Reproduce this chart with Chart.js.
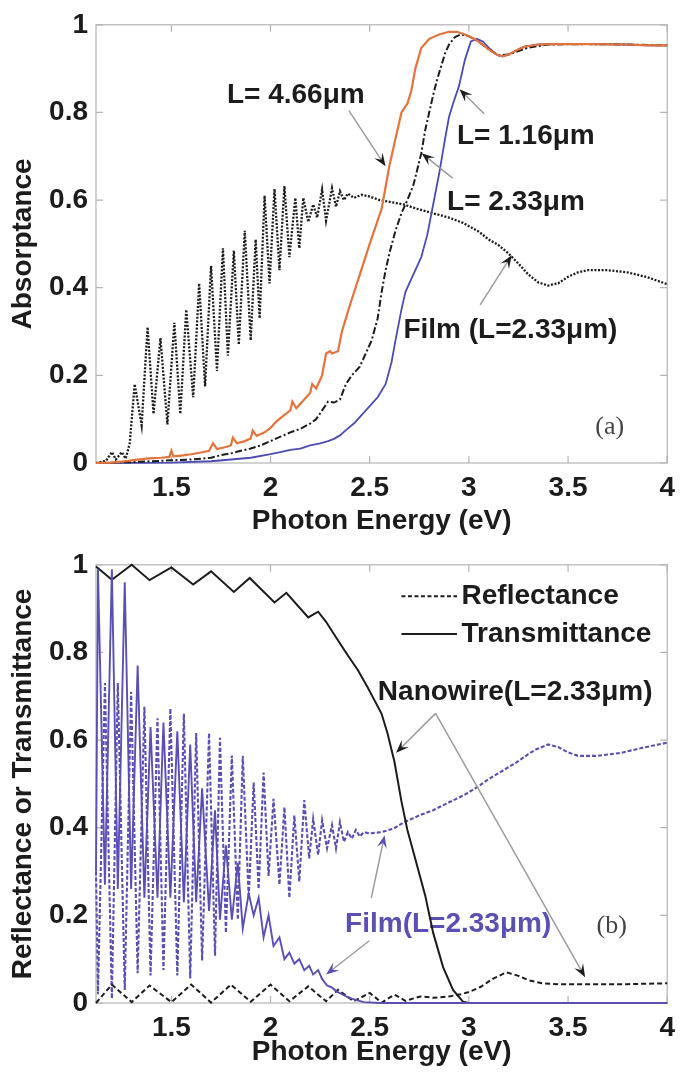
<!DOCTYPE html>
<html>
<head>
<meta charset="utf-8">
<script src="https://cdn.jsdelivr.net/npm/chart.js@4.4.1/dist/chart.umd.min.js"></script>
<style>
  html, body { margin: 0; padding: 0; background: #fff; }
  #wrap { position: relative; width: 683px; height: 1074px; }
  canvas { position: absolute; left: 0; }
  #chartA { top: 0; }
  #chartB { top: 540px; }
</style>
</head>
<body>
<div id="wrap">
  <canvas id="chartA" width="683" height="540"></canvas>
  <canvas id="chartB" width="683" height="534"></canvas>
</div>
<script>
// axis ticks (both panels)
const xTicks = [1.5, 2, 2.5, 3, 3.5, 4];
const xTickLabels = ["1.5", "2", "2.5", "3", "3.5", "4"];
const yTicks = [0, 0.2, 0.4, 0.6, 0.8, 1];
const yTickLabels = ["0", "0.2", "0.4", "0.6", "0.8", "1"];

// (a) absorptance, nanowire L=4.66um
const nw466E = [1.12,1.2,1.25,1.3,1.35,1.4,1.45,1.49,1.5,1.51,1.55,1.6,1.65,1.69,1.71,1.73,1.77,1.8,1.81,1.83,1.87,1.9,1.91,1.93,1.97,2.0,2.03,2.07,2.1,2.11,2.13,2.16,2.18,2.2,2.21,2.23,2.26,2.28,2.3,2.31,2.34,2.36,2.38,2.4,2.45,2.5,2.53,2.56,2.58,2.6,2.62,2.64,2.66,2.69,2.71,2.73,2.76,2.8,2.85,2.9,2.94,2.98,3.02,3.06,3.1,3.14,3.17,3.2,3.24,3.28,3.35,3.45,3.6,3.8,3.9,4.0];
const nw466A = [0,0.001,0.003,0.006,0.009,0.011,0.012,0.014,0.028,0.015,0.017,0.02,0.024,0.028,0.045,0.032,0.036,0.04,0.058,0.045,0.05,0.056,0.074,0.062,0.07,0.08,0.095,0.11,0.12,0.14,0.125,0.14,0.15,0.16,0.18,0.17,0.2,0.25,0.255,0.25,0.255,0.3,0.33,0.36,0.43,0.5,0.54,0.58,0.63,0.68,0.72,0.76,0.8,0.82,0.85,0.9,0.947,0.968,0.978,0.984,0.984,0.978,0.97,0.958,0.944,0.932,0.928,0.932,0.942,0.95,0.955,0.956,0.956,0.955,0.953,0.953];

// (a) nanowire L=2.33um
const nw233E = [1.12,1.3,1.4,1.5,1.6,1.7,1.75,1.8,1.85,1.9,1.95,2.0,2.05,2.1,2.15,2.2,2.23,2.26,2.29,2.32,2.35,2.38,2.41,2.45,2.48,2.51,2.54,2.56,2.58,2.6,2.63,2.66,2.69,2.72,2.74,2.76,2.78,2.8,2.82,2.84,2.86,2.88,2.9,2.93,2.96,3.0,3.05,3.1,3.15,3.2,3.25,3.3,3.4,3.6,3.8,4.0];
const nw233A = [0,0.002,0.004,0.006,0.008,0.012,0.018,0.022,0.028,0.033,0.04,0.05,0.06,0.07,0.078,0.09,0.1,0.12,0.14,0.138,0.145,0.18,0.2,0.22,0.25,0.28,0.33,0.39,0.44,0.48,0.53,0.57,0.6,0.634,0.67,0.707,0.76,0.8,0.84,0.875,0.905,0.935,0.955,0.972,0.978,0.974,0.961,0.944,0.93,0.932,0.94,0.948,0.955,0.956,0.955,0.953];

// (a) nanowire L=1.16um
const nw116E = [1.12,1.5,1.7,1.8,1.9,2.0,2.05,2.1,2.15,2.2,2.25,2.29,2.32,2.35,2.38,2.42,2.46,2.5,2.54,2.58,2.61,2.63,2.66,2.68,2.71,2.74,2.76,2.79,2.82,2.85,2.88,2.9,2.92,2.95,2.98,3.01,3.04,3.07,3.1,3.14,3.17,3.2,3.24,3.28,3.35,3.45,3.6,3.8,3.9,4.0];
const nw116A = [0,0.001,0.004,0.008,0.012,0.02,0.025,0.03,0.033,0.04,0.045,0.05,0.055,0.063,0.075,0.09,0.11,0.13,0.15,0.18,0.23,0.28,0.35,0.39,0.42,0.45,0.47,0.52,0.59,0.66,0.74,0.79,0.82,0.86,0.92,0.962,0.968,0.962,0.948,0.932,0.928,0.932,0.942,0.95,0.955,0.956,0.956,0.955,0.953,0.953];

// (a) film L=2.33um
const filmAE = [1.12,1.17,1.2,1.22,1.25,1.27,1.29,1.315,1.35,1.38,1.41,1.445,1.48,1.515,1.545,1.575,1.61,1.64,1.67,1.70,1.73,1.76,1.785,1.815,1.84,1.87,1.9,1.925,1.945,1.97,1.995,2.02,2.045,2.07,2.095,2.125,2.145,2.165,2.19,2.215,2.235,2.26,2.28,2.31,2.33,2.35,2.37,2.39,2.42,2.46,2.5,2.55,2.6,2.67,2.74,2.81,2.9,2.97,3.05,3.1,3.15,3.2,3.25,3.3,3.35,3.4,3.45,3.5,3.55,3.6,3.7,3.8,3.9,4.0];
const filmA = [0,0.005,0.025,0.008,0.025,0.01,0.045,0.18,0.086,0.31,0.112,0.285,0.088,0.32,0.112,0.35,0.15,0.41,0.175,0.45,0.21,0.49,0.245,0.485,0.27,0.53,0.28,0.51,0.33,0.61,0.41,0.625,0.44,0.632,0.47,0.605,0.49,0.605,0.55,0.59,0.56,0.624,0.553,0.627,0.585,0.62,0.6,0.615,0.605,0.612,0.608,0.6,0.596,0.59,0.58,0.571,0.56,0.548,0.528,0.51,0.497,0.478,0.455,0.43,0.412,0.405,0.41,0.425,0.435,0.44,0.44,0.435,0.424,0.408];

// (b) nanowire L=2.33um, transmittance and reflectance
const nwTE = [1.12,1.2,1.3,1.39,1.5,1.61,1.7,1.815,1.895,2.02,2.08,2.19,2.24,2.28,2.325,2.39,2.44,2.49,2.525,2.56,2.59,2.625,2.66,2.69,2.72,2.78,2.82,2.87,2.92,2.97,3.0,3.5,4.0];
const nwT = [0.996,0.966,1.0,0.965,0.994,0.955,0.985,0.938,0.97,0.914,0.936,0.88,0.893,0.87,0.838,0.793,0.76,0.72,0.69,0.66,0.615,0.55,0.46,0.395,0.345,0.245,0.16,0.082,0.03,0.003,0,0,0];
const nwRE = [1.12,1.2,1.3,1.39,1.5,1.6,1.7,1.8,1.9,2.0,2.095,2.19,2.28,2.34,2.42,2.5,2.56,2.625,2.68,2.755,2.82,2.9,2.96,3.0,3.06,3.12,3.19,3.25,3.3,3.37,3.45,3.6,3.8,4.0];
const nwR = [0,0.042,0.002,0.04,0.002,0.042,0.001,0.042,0.003,0.042,0.004,0.038,0.004,0.03,0.004,0.023,0.001,0.019,0.005,0.015,0.012,0.015,0.02,0.025,0.037,0.055,0.07,0.062,0.052,0.045,0.043,0.043,0.043,0.045];

// (b) film L=2.33um, reflectance and transmittance
const filmRE = [1.12,1.13,1.165,1.2,1.23,1.265,1.297,1.33,1.364,1.395,1.43,1.46,1.495,1.53,1.563,1.595,1.625,1.655,1.69,1.72,1.745,1.775,1.805,1.835,1.86,1.89,1.915,1.94,1.965,1.99,2.015,2.045,2.07,2.095,2.12,2.145,2.17,2.195,2.215,2.24,2.26,2.285,2.31,2.33,2.35,2.37,2.39,2.41,2.43,2.45,2.47,2.5,2.56,2.62,2.675,2.75,2.82,2.9,2.97,3.04,3.1,3.17,3.24,3.3,3.34,3.4,3.45,3.5,3.55,3.65,3.77,3.87,4.0];
const filmR = [0.3,0.02,0.73,0.01,0.73,0.03,0.71,0.068,0.676,0.063,0.65,0.075,0.672,0.063,0.66,0.056,0.616,0.097,0.616,0.108,0.605,0.16,0.565,0.19,0.564,0.24,0.503,0.26,0.526,0.29,0.466,0.27,0.447,0.24,0.428,0.277,0.463,0.33,0.42,0.338,0.417,0.353,0.406,0.353,0.413,0.368,0.39,0.375,0.395,0.38,0.39,0.387,0.39,0.398,0.413,0.428,0.44,0.458,0.473,0.492,0.511,0.53,0.549,0.568,0.579,0.59,0.584,0.572,0.564,0.564,0.571,0.582,0.594];
const filmTE = [1.12,1.13,1.165,1.2,1.23,1.265,1.297,1.33,1.364,1.395,1.43,1.46,1.495,1.53,1.563,1.595,1.625,1.655,1.69,1.72,1.745,1.775,1.805,1.835,1.86,1.89,1.915,1.94,1.965,1.99,2.015,2.045,2.07,2.095,2.12,2.145,2.17,2.195,2.215,2.24,2.26,2.285,2.31,2.335,2.36,2.39,2.43,2.47,2.55,3.0,3.5,4.0];
const filmT = [0.3,0.99,0.27,0.99,0.26,0.96,0.26,0.77,0.24,0.63,0.24,0.64,0.24,0.62,0.23,0.59,0.23,0.49,0.21,0.44,0.19,0.36,0.19,0.32,0.17,0.25,0.2,0.24,0.15,0.2,0.13,0.15,0.1,0.115,0.09,0.1,0.075,0.085,0.065,0.075,0.055,0.04,0.035,0.026,0.02,0.013,0.007,0.002,0,0,0,0];

const ORANGE = "#e4743c";
const BLUE = "#4c4cb4";
const PURPLE = "#5a4fb2";
const INK = "#1c1c1c";
const FONT = "'Liberation Sans', Arial, sans-serif";

Chart.defaults.font.family = FONT;
Chart.defaults.font.size = 28;
Chart.defaults.font.weight = "bold";
Chart.defaults.color = INK;

function pts(xs, ys) {
  return xs.map((x, i) => ({ x: x, y: ys[i] }));
}

function line(xs, ys, color, dash, width) {
  return {
    data: pts(xs, ys),
    showLine: true,
    borderColor: color,
    borderWidth: width || 2,
    borderDash: dash || [],
    pointRadius: 0,
    tension: 0,
    fill: false,
    clip: 4
  };
}

// box round the plot with inward ticks on all four sides
const frame = {
  id: "frame",
  beforeDatasetsDraw(chart) {
    const { ctx, chartArea: a, scales: { x, y } } = chart;
    ctx.save();
    ctx.strokeStyle = "#b4b4b4";
    ctx.lineWidth = 1.2;
    ctx.strokeRect(a.left, a.top, a.right - a.left, a.bottom - a.top);
    ctx.beginPath();
    xTicks.forEach(v => {
      const p = x.getPixelForValue(v);
      ctx.moveTo(p, a.bottom); ctx.lineTo(p, a.bottom - 7);
      ctx.moveTo(p, a.top); ctx.lineTo(p, a.top + 7);
    });
    yTicks.forEach(v => {
      const p = y.getPixelForValue(v);
      ctx.moveTo(a.left, p); ctx.lineTo(a.left + 7, p);
      ctx.moveTo(a.right, p); ctx.lineTo(a.right - 7, p);
    });
    ctx.stroke();
    ctx.restore();
  }
};

// text labels, legend samples and arrows, placed in data units
const notes = {
  id: "notes",
  beforeDatasetsDraw(chart, args, opts) {
    const { ctx, scales: { x, y } } = chart;
    ctx.save();
    (opts.texts || []).forEach(t => {
      ctx.font = t.font || ("bold 28px " + FONT);
      ctx.fillStyle = t.color || INK;
      ctx.textAlign = t.align || "left";
      ctx.textBaseline = "middle";
      ctx.fillText(t.text, x.getPixelForValue(t.x), y.getPixelForValue(t.y));
    });
    (opts.samples || []).forEach(s => {
      ctx.strokeStyle = INK;
      ctx.lineWidth = 2;
      ctx.setLineDash(s.dash);
      ctx.beginPath();
      ctx.moveTo(x.getPixelForValue(s.x0), y.getPixelForValue(s.y));
      ctx.lineTo(x.getPixelForValue(s.x1), y.getPixelForValue(s.y));
      ctx.stroke();
    });
    ctx.setLineDash([]);
    ctx.restore();
  },
  afterDatasetsDraw(chart, args, opts) {
    const { ctx, scales: { x, y } } = chart;
    ctx.save();
    (opts.arrows || []).forEach(a => {
      const x0 = x.getPixelForValue(a.from[0]), y0 = y.getPixelForValue(a.from[1]);
      const x1 = x.getPixelForValue(a.to[0]), y1 = y.getPixelForValue(a.to[1]);
      const ang = Math.atan2(y1 - y0, x1 - x0);
      const c = Math.cos(ang), s = Math.sin(ang);
      const L = 13, W = 5;
      ctx.strokeStyle = "#9c9c9c";
      ctx.lineWidth = 1.5;
      ctx.beginPath();
      ctx.moveTo(x0, y0);
      ctx.lineTo(x1 - 0.6 * L * c, y1 - 0.6 * L * s);
      ctx.stroke();
      ctx.fillStyle = a.head || INK;
      ctx.beginPath();
      ctx.moveTo(x1, y1);
      ctx.lineTo(x1 - L * c + W * s, y1 - L * s - W * c);
      ctx.lineTo(x1 - 0.6 * L * c, y1 - 0.6 * L * s);
      ctx.lineTo(x1 - L * c - W * s, y1 - L * s + W * c);
      ctx.closePath();
      ctx.fill();
    });
    ctx.restore();
  }
};

function axes(yTitle, xAxisHeight, xTitlePad) {
  return {
    x: {
      type: "linear",
      min: 1.12,
      max: 4,
      afterBuildTicks: s => { s.ticks = xTicks.map(v => ({ value: v })); },
      afterFit: s => { s.height = xAxisHeight; },
      ticks: { padding: 8, callback: v => xTickLabels[xTicks.indexOf(v)] },
      grid: { display: false, drawTicks: false },
      border: { display: false },
      title: { display: true, text: "Photon Energy (eV)", padding: { top: 0, bottom: xTitlePad } }
    },
    y: {
      type: "linear",
      min: 0,
      max: 1,
      afterBuildTicks: s => { s.ticks = yTicks.map(v => ({ value: v })); },
      afterFit: s => { s.width = 96; },
      ticks: { padding: 8, callback: v => yTickLabels[yTicks.indexOf(v)] },
      grid: { display: false, drawTicks: false },
      border: { display: false },
      title: { display: true, text: yTitle, padding: { top: 6, bottom: 0 } }
    }
  };
}

function baseOptions(yTitle, xAxisHeight, xTitlePad, noteOpts) {
  return {
    responsive: false,
    animation: false,
    devicePixelRatio: 1,
    events: [],
    layout: { padding: { top: 20, right: 8, left: 0, bottom: 0 } },
    plugins: { legend: { display: false }, tooltip: { enabled: false }, notes: noteOpts },
    scales: axes(yTitle, xAxisHeight, xTitlePad)
  };
}

new Chart(document.getElementById("chartA"), {
  type: "scatter",
  data: {
    datasets: [
      line(nw466E, nw466A, ORANGE, [], 2.2),
      line(nw233E, nw233A, INK, [7, 2.5, 2, 2.5], 2),
      line(nw116E, nw116A, BLUE, [], 1.8),
      line(filmAE, filmA, INK, [2, 1.6], 2.3)
    ]
  },
  options: baseOptions("Absorptance", 77, 2, {
    texts: [
      { text: "L= 4.66\u03bcm", x: 1.78, y: 0.84 },
      { text: "L= 1.16\u03bcm", x: 2.94, y: 0.745 },
      { text: "L= 2.33\u03bcm", x: 2.89, y: 0.594 },
      { text: "Film (L=2.33\u03bcm)", x: 2.67, y: 0.302 },
      { text: "(a)", x: 3.71, y: 0.081, align: "center", color: "#444", font: "26px 'Liberation Serif', serif" }
    ],
    arrows: [
      { from: [2.395, 0.804], to: [2.58, 0.677] },
      { from: [3.077, 0.797], to: [2.953, 0.853] },
      { from: [2.918, 0.65], to: [2.762, 0.707] },
      { from: [3.057, 0.361], to: [3.216, 0.474] }
    ]
  }),
  plugins: [frame, notes]
});

new Chart(document.getElementById("chartB"), {
  type: "scatter",
  data: {
    datasets: [
      line(filmTE, filmT, PURPLE, [], 1.9),
      line(nwTE, nwT, INK, [], 2),
      line(nwRE, nwR, INK, [5, 3], 2),
      line(filmRE, filmR, PURPLE, [4, 2], 2.1)
    ]
  },
  options: baseOptions("Reflectance or Transmittance", 71, 5, {
    texts: [
      { text: "Reflectance", x: 2.963, y: 0.928 },
      { text: "Transmittance", x: 2.963, y: 0.842 },
      { text: "Nanowire(L=2.33\u03bcm)", x: 2.541, y: 0.71 },
      { text: "Film(L=2.33\u03bcm)", x: 2.376, y: 0.18, color: PURPLE },
      { text: "(b)", x: 3.72, y: 0.176, align: "center", color: "#444", font: "26px 'Liberation Serif', serif" }
    ],
    samples: [
      { x0: 2.66, x1: 2.94, y: 0.928, dash: [4, 2.5] },
      { x0: 2.66, x1: 2.94, y: 0.842, dash: [] }
    ],
    arrows: [
      { from: [2.832, 0.661], to: [2.633, 0.571] },
      { from: [2.832, 0.661], to: [3.586, 0.059] },
      { from: [2.508, 0.24], to: [2.575, 0.383], head: PURPLE },
      { from: [2.498, 0.142], to: [2.28, 0.065], head: PURPLE }
    ]
  }),
  plugins: [frame, notes]
});
</script>
</body>
</html>
